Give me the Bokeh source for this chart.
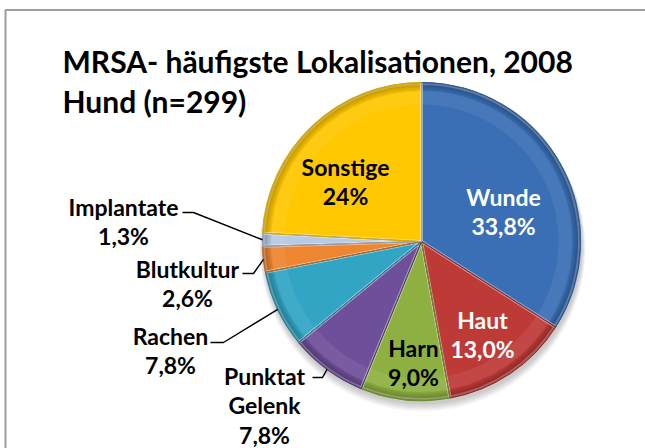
import math
from bokeh.plotting import figure
from bokeh.models import Range1d
from bokeh.embed import file_html
from bokeh.resources import INLINE
from bokeh.core.properties import value

# ---------------- data ----------------
categories = ["Wunde", "Haut", "Harn", "Punktat Gelenk", "Rachen", "Blutkultur", "Implantate", "Sonstige"]
percent = [33.8, 13.0, 9.0, 7.8, 7.8, 2.6, 1.3, 24.0]
percent_labels = ["33,8%", "13,0%", "9,0%", "7,8%", "7,8%", "2,6%", "1,3%", "24%"]
title_lines = ["MRSA- häufigste Lokalisationen, 2008", "Hund (n=299)"]

# ---------------- style / layout ----------------
W, H = 645, 448
colors = ["#3A6FB5", "#BE3A37", "#8DB040", "#6E4F9A", "#32A5C5", "#EE8530", "#B7CBE6", "#FFC800"]
edge_colors = ["#2A5590", "#962A28", "#6A8A2C", "#543A78", "#23809A", "#C0661E", "#8FA6C6", "#D9A800"]
text_colors = ["white", "white", "black", "black", "black", "black", "black", "black"]
CX, CY, R = 421, 241, 159          # pie centre / radius in screen pixels
FONT = "Lato"

def Y(y):
    return H - y

p = figure(width=W, height=H, x_range=Range1d(0, W), y_range=Range1d(0, H),
           output_backend="svg", toolbar_location=None, min_border=0,
           x_axis_type=None, y_axis_type=None)
p.grid.visible = False
p.outline_line_color = None
p.background_fill_color = "white"
p.border_fill_color = "white"

# chart-area border (extends beyond the window on the right and bottom)
p.line(x=[5, 5, W + 10], y=[Y(H + 10), Y(9.5), Y(9.5)], line_color="#9C9C9C", line_width=2)

# title
p.text(x=[62, 62], y=[Y(60), Y(100)], text=title_lines, text_font=value(FONT),
       text_font_style="bold", text_font_size="30px", text_color="black",
       text_align="left", text_baseline="alphabetic")

# soft shadow under the pie
for k in range(6):
    p.circle(x=[CX + 1], y=[Y(CY + 3 + k * 0.8)], radius=R + 1 + k * 0.6,
             fill_color="black", fill_alpha=0.035, line_color=None)

# wedges
total = sum(percent)
starts, ends, mids = [], [], []
cum = 0.0
for v in percent:
    a0 = math.pi / 2 - 2 * math.pi * cum / total
    cum += v
    a1 = math.pi / 2 - 2 * math.pi * cum / total
    starts.append(a0)
    ends.append(a1)
    mids.append((a0 + a1) / 2)

xs = [CX] * len(percent)
ys = [Y(CY)] * len(percent)
p.wedge(x=xs, y=ys, radius=R, start_angle=starts, end_angle=ends, direction="clock",
        fill_color=colors, line_color=edge_colors, line_width=1.2)

# bevel: light band inside the rim, darkening toward the rim
p.annular_wedge(x=xs, y=ys, inner_radius=R - 22, outer_radius=R - 8, start_angle=starts,
                end_angle=ends, direction="clock", fill_color="white", fill_alpha=0.07, line_color=None)
for k in range(7):
    p.annular_wedge(x=xs, y=ys, inner_radius=R - 9 + k * 1.3, outer_radius=R, start_angle=starts,
                    end_angle=ends, direction="clock", fill_color="black", fill_alpha=0.045, line_color=None)
# bevel along radial edges
p.wedge(x=xs, y=ys, radius=R - 1, start_angle=starts, end_angle=ends, direction="clock",
        fill_color=None, line_color="white", line_alpha=0.25, line_width=3)
p.wedge(x=xs, y=ys, radius=R, start_angle=starts, end_angle=ends, direction="clock",
        fill_color=None, line_color=edge_colors, line_width=1)

# ---------------- labels ----------------
# label anchor positions (screen px): (x, y of first line, align)
label_pos = {
    "Wunde": (503, 196, "center"),
    "Haut": (482, 319, "center"),
    "Harn": (413, 347, "center"),
    "Punktat Gelenk": (264, 375, "center"),
    "Rachen": (170, 335, "center"),
    "Blutkultur": (187, 268, "center"),
    "Implantate": (123, 206, "center"),
    "Sonstige": (345, 166, "center"),
}
LH = 29.5
for i, cat in enumerate(categories):
    lx, ly, al = label_pos[cat]
    lines = cat.split(" ") + [percent_labels[i]]
    p.text(x=[lx] * len(lines), y=[Y(ly + j * LH) for j in range(len(lines))], text=lines,
           text_font=value(FONT), text_font_style="bold", text_font_size="23px",
           text_color=text_colors[i], text_align=al, text_baseline="middle")

# leader lines for outside labels: (start x, y, elbow x)
leaders = {
    "Implantate": (182, 212, 193),
    "Blutkultur": (242, 273, 253),
    "Rachen": (210, 342, 223),
    "Punktat Gelenk": (312, 377, 322),
}
for i, cat in enumerate(categories):
    if cat in leaders:
        sx, sy, ex = leaders[cat]
        tx = CX + R * math.cos(mids[i])
        ty = CY - R * math.sin(mids[i])
        p.line(x=[sx, ex, tx], y=[Y(sy), Y(sy), Y(ty)], line_color="black", line_width=1.4)

open("out.html", "w").write(file_html(p, INLINE))
